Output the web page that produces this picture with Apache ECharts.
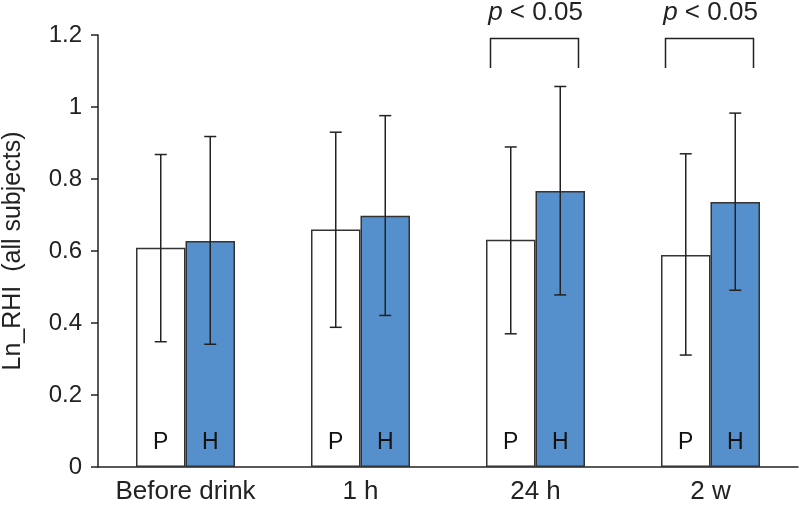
<!DOCTYPE html>
<html>
<head>
<meta charset="utf-8">
<script src="https://cdn.jsdelivr.net/npm/echarts@6/dist/echarts.min.js"></script>
<style>
html,body{margin:0;padding:0;background:#fff;}
#chart{width:800px;height:505px;}
</style>
</head>
<body>
<div id="chart"></div>
<script>
const categories = ['Before drink', '1 h', '24 h', '2 w'];
const pMean = [0.609, 0.660, 0.631, 0.589];
const pLow  = [0.348, 0.388, 0.370, 0.311];
const pHigh = [0.868, 0.930, 0.889, 0.870];
const hMean = [0.628, 0.698, 0.767, 0.736];
const hLow  = [0.341, 0.421, 0.478, 0.491];
const hHigh = [0.918, 0.976, 1.057, 0.983];
const sigGroups = [2, 3];
const sigLabel = 'p < 0.05';
const bracketTop = 1.19;
const bracketLeg = 1.108;
const sigTextLevel = 1.262;

const FONT = 'Liberation Sans, Arial, sans-serif';
const BAR_W = 49.5;
const DARK = '#222222';

function errData(low, high) {
  return categories.map((c, i) => [i, low[i], high[i]]);
}
function errSeries(low, high, side) {
  return {
    type: 'custom',
    z: 5,
    clip: false,
    data: errData(low, high),
    encode: { x: 0, y: [1, 2] },
    renderItem: function (params, api) {
      const i = api.value(0);
      const lo = api.coord([i, api.value(1)]);
      const hi = api.coord([i, api.value(2)]);
      const x = lo[0] + side * BAR_W / 2;
      const cap = 6;
      const st = { stroke: DARK, lineWidth: 1.5 };
      return {
        type: 'group',
        children: [
          { type: 'line', shape: { x1: x, y1: lo[1], x2: x, y2: hi[1] }, style: st },
          { type: 'line', shape: { x1: x - cap, y1: hi[1], x2: x + cap, y2: hi[1] }, style: st },
          { type: 'line', shape: { x1: x - cap, y1: lo[1], x2: x + cap, y2: lo[1] }, style: st }
        ]
      };
    }
  };
}

const sigParts = sigLabel.split(' ');
const sigRich = '{i|' + sigParts[0] + '}{n| ' + sigParts.slice(1).join(' ') + '}';

const chart = echarts.init(document.getElementById('chart'), null, { renderer: 'canvas' });
chart.setOption({
  backgroundColor: '#ffffff',
  animation: false,
  grid: { left: 98, right: 2, top: 35, bottom: 38, containLabel: false, outerBoundsMode: 'none' },
  xAxis: {
    type: 'category',
    data: categories,
    axisLine: { lineStyle: { color: DARK, width: 1.5 } },
    axisTick: { show: false },
    axisLabel: { color: DARK, fontFamily: FONT, fontSize: 26, margin: 12, interval: 0 }
  },
  yAxis: {
    type: 'value',
    min: 0, max: 1.2, interval: 0.2,
    name: 'Ln_RHI  (all subjects)',
    nameLocation: 'middle',
    nameGap: 72,
    nameTextStyle: { color: DARK, fontFamily: FONT, fontSize: 25 },
    axisLine: { show: true, lineStyle: { color: DARK, width: 1.5 } },
    axisTick: { show: true, length: 7, lineStyle: { color: DARK, width: 1.5 } },
    axisLabel: { color: DARK, fontFamily: FONT, fontSize: 24, margin: 16,
      formatter: v => String(Math.round(v * 10) / 10) },
    splitLine: { show: false }
  },
  series: [
    {
      name: 'P', type: 'bar', data: pMean, barWidth: BAR_W, barGap: '0%',
      itemStyle: { color: '#ffffff', borderColor: '#333333', borderWidth: 1.5 },
      label: { show: true, position: 'insideBottom', distance: 13, formatter: 'P',
        color: '#111', fontFamily: FONT, fontSize: 23 }
    },
    {
      name: 'H', type: 'bar', data: hMean, barWidth: BAR_W,
      itemStyle: { color: '#5590cc', borderColor: '#333333', borderWidth: 1.5 },
      label: { show: true, position: 'insideBottom', distance: 13, formatter: 'H',
        color: '#111', fontFamily: FONT, fontSize: 23 }
    },
    errSeries(pLow, pHigh, -1),
    errSeries(hLow, hHigh, 1),
    {
      type: 'custom',
      z: 5,
      clip: false,
      data: sigGroups.map(g => [g, bracketTop, bracketLeg, sigTextLevel]),
      renderItem: function (params, api) {
        const g = api.value(0);
        const top = api.coord([g, api.value(1)]);
        const leg = api.coord([g, api.value(2)]);
        const txt = api.coord([g, api.value(3)]);
        const cx = top[0];
        const st = { stroke: DARK, lineWidth: 1.5, fill: null };
        return {
          type: 'group',
          children: [
            { type: 'polyline', shape: { points: [[cx - 45, leg[1]], [cx - 45, top[1]], [cx + 43, top[1]], [cx + 43, leg[1]]] }, style: st },
            { type: 'text', x: cx, y: txt[1],
              style: { text: sigRich, align: 'center', verticalAlign: 'middle',
                rich: {
                  i: { fontStyle: 'italic', fontFamily: FONT, fontSize: 26, fill: DARK, color: DARK },
                  n: { fontFamily: FONT, fontSize: 26, fill: DARK, color: DARK }
                } } }
          ]
        };
      }
    }
  ]
});
</script>
</body>
</html>
